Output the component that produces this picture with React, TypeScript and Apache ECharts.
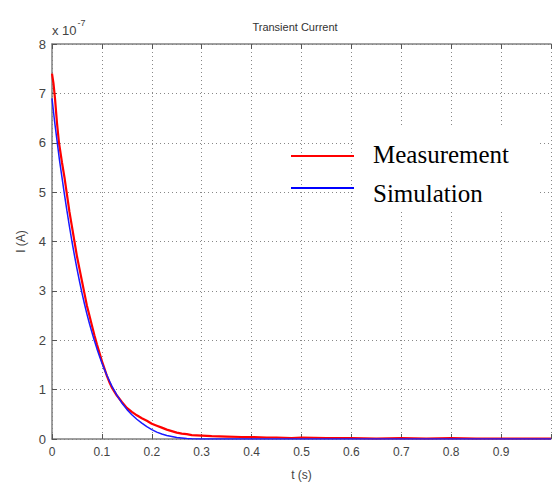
import React, { useEffect, useRef } from "react";
import * as echarts from "echarts";

const xTicks = [0, 0.1, 0.2, 0.3, 0.4, 0.5, 0.6, 0.7, 0.8, 0.9, 1];
const yTicks = [0, 1, 2, 3, 4, 5, 6, 7, 8];

const measT = [0, 0.003, 0.006, 0.01, 0.014, 0.02, 0.025, 0.03, 0.035, 0.04, 0.045, 0.05, 0.055, 0.06, 0.065, 0.07, 0.075, 0.08, 0.085, 0.09, 0.095, 0.1, 0.105, 0.11, 0.115, 0.12, 0.13, 0.14, 0.15, 0.16, 0.17, 0.18, 0.19, 0.2, 0.21, 0.22, 0.23, 0.24, 0.25, 0.26, 0.27, 0.28, 0.3, 0.32, 0.35, 0.38, 0.4, 0.43, 0.45, 0.48, 0.5, 0.55, 0.6, 0.65, 0.7, 0.75, 0.8, 0.85, 0.9, 0.95, 1.0];
const measV = [7.4, 7.2, 6.9, 6.4, 6.0, 5.6, 5.3, 4.95, 4.6, 4.3, 4.0, 3.7, 3.45, 3.2, 2.95, 2.7, 2.5, 2.3, 2.1, 1.92, 1.75, 1.58, 1.43, 1.28, 1.15, 1.04, 0.88, 0.75, 0.63, 0.55, 0.48, 0.42, 0.37, 0.31, 0.27, 0.23, 0.19, 0.16, 0.13, 0.11, 0.1, 0.08, 0.07, 0.06, 0.05, 0.04, 0.04, 0.03, 0.03, 0.02, 0.03, 0.02, 0.02, 0.01, 0.02, 0.01, 0.02, 0.01, 0.01, 0.01, 0.01];

const simT = [0, 0.005, 0.01, 0.015, 0.02, 0.025, 0.03, 0.035, 0.04, 0.045, 0.05, 0.055, 0.06, 0.065, 0.07, 0.075, 0.08, 0.085, 0.09, 0.095, 0.1, 0.105, 0.11, 0.115, 0.12, 0.13, 0.14, 0.15, 0.16, 0.17, 0.18, 0.19, 0.2, 0.21, 0.22, 0.23, 0.24, 0.25, 0.26, 0.27, 0.28, 0.3, 0.4, 0.5, 0.6, 0.7, 0.8, 0.9, 1.0];
const simV = [6.9, 6.45, 6.05, 5.65, 5.3, 4.95, 4.62, 4.3, 4.0, 3.72, 3.45, 3.2, 2.96, 2.74, 2.53, 2.34, 2.16, 1.99, 1.83, 1.68, 1.54, 1.41, 1.29, 1.18, 1.07, 0.89, 0.73, 0.6, 0.49, 0.4, 0.32, 0.25, 0.19, 0.14, 0.1, 0.07, 0.05, 0.03, 0.02, 0.01, 0.005, 0, 0, 0, 0, 0, 0, 0, 0];

const measurementData = measT.map((t, i) => [t, measV[i]]);
const simulationData = simT.map((t, i) => [t, simV[i]]);

const tickFont = "Liberation Sans, Arial, sans-serif";
const serifFont = "Liberation Serif, Times New Roman, serif";

export default function App() {
  const ref = useRef<HTMLDivElement>(null);
  useEffect(() => {
    document.body.style.margin = "0";
    if (!ref.current) return;
    const chart = echarts.init(ref.current, null, { renderer: "svg" });
    const gridLine = { show: true, lineStyle: { color: "#888", type: [1, 3] as any, width: 1 } };
    const axisLine = { show: true, lineStyle: { color: "#808080", width: 1.5 } };
    chart.setOption({
      animation: false,
      backgroundColor: "#ffffff",
      grid: { left: 52, top: 44, width: 505, height: 395, containLabel: false },
      title: {
        text: "Transient Current",
        left: 290,
        textAlign: "center",
        top: 16,
        textStyle: { fontFamily: tickFont, fontSize: 11, fontWeight: "normal", color: "#333" },
      },
      xAxis: [
        {
          type: "value",
          min: 0,
          max: 1,
          interval: 0.1,
          position: "bottom",
          name: "t (s)",
          nameLocation: "middle",
          nameGap: 30,
          nameTextStyle: { fontFamily: tickFont, fontSize: 12, color: "#444" },
          axisLine,
          axisTick: { show: true, inside: true, length: 5, lineStyle: { color: "#555" } },
          axisLabel: {
            fontFamily: tickFont,
            fontSize: 12,
            color: "#444",
            margin: 7,
            formatter: (v: number) => (xTicks.includes(Math.round(v * 10) / 10) && v < 0.999 ? String(Math.round(v * 10) / 10) : ""),
          },
          splitLine: gridLine,
        },
        {
          type: "value",
          min: 0,
          max: 1,
          interval: 0.1,
          position: "top",
          axisLine,
          axisTick: { show: true, inside: true, length: 5, lineStyle: { color: "#555" } },
          axisLabel: { show: false },
          splitLine: { show: false },
        },
      ],
      yAxis: [
        {
          type: "value",
          min: 0,
          max: 8,
          interval: 1,
          name: "I (A)",
          nameLocation: "middle",
          nameGap: 25,
          nameRotate: 90,
          nameTextStyle: { fontFamily: tickFont, fontSize: 12, color: "#444" },
          axisLine,
          axisTick: { show: true, inside: true, length: 5, lineStyle: { color: "#555" } },
          axisLabel: {
            fontFamily: tickFont,
            fontSize: 13,
            color: "#444",
            margin: 6,
            formatter: (v: number) => (yTicks.includes(v) ? String(v) : ""),
          },
          splitLine: gridLine,
        },
      ],
      graphic: [
        {
          type: "text",
          left: 52,
          top: 18,
          style: {
            text: "{a|x 10}{b|-7}",
            rich: {
              a: { fontFamily: tickFont, fontSize: 13, fill: "#444", verticalAlign: "bottom" },
              b: { fontFamily: tickFont, fontSize: 9, fill: "#444", verticalAlign: "top", padding: [0, 0, 10, 1] },
            },
          },
        },
        {
          type: "rect",
          shape: { x: 355, y: 128, width: 184, height: 84 },
          style: { fill: "#ffffff" },
          z: 100,
        },
        {
          type: "line",
          shape: { x1: 291, y1: 156, x2: 354, y2: 156 },
          style: { stroke: "#ff0000", lineWidth: 2 },
          z: 101,
        },
        {
          type: "line",
          shape: { x1: 291, y1: 188, x2: 354, y2: 188 },
          style: { stroke: "#0000ff", lineWidth: 2 },
          z: 101,
        },
        {
          type: "text",
          x: 373,
          y: 154,
          style: {
            text: "Measurement",
            fontFamily: serifFont,
            fontSize: 25,
            fill: "#000",
            verticalAlign: "middle",
          },
          z: 101,
        },
        {
          type: "text",
          x: 373,
          y: 193,
          style: {
            text: "Simulation",
            fontFamily: serifFont,
            fontSize: 25,
            fill: "#000",
            verticalAlign: "middle",
          },
          z: 101,
        },
      ],
      series: [
        {
          name: "Measurement",
          type: "line",
          data: measurementData,
          showSymbol: false,
          lineStyle: { color: "#ff0000", width: 2.2 },
          z: 3,
        },
        {
          name: "Simulation",
          type: "line",
          data: simulationData,
          showSymbol: false,
          lineStyle: { color: "#1a1aff", width: 1.5 },
          z: 4,
        },
      ],
    });
    return () => chart.dispose();
  }, []);
  return <div ref={ref} style={{ width: 554, height: 486 }} />;
}
